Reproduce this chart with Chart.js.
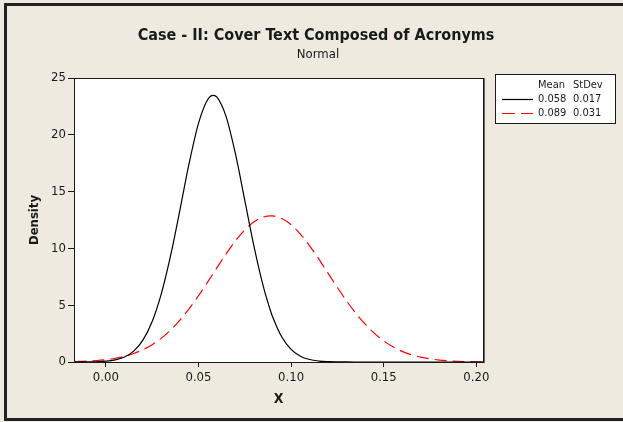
<!DOCTYPE html>
<html>
<head>
<meta charset="utf-8">
<script src="https://cdn.jsdelivr.net/npm/chart.js@4"></script>
<style>
  html, body { margin: 0; padding: 0; background: #EEEAE0; }
  #wrap { width: 623px; height: 422px; }
</style>
</head>
<body>
<div id="wrap"><canvas id="c" width="623" height="422"></canvas></div>
<script>
// ---- data ----
const chartTitle = 'Case - II: Cover Text Composed of Acronyms';
const chartSubtitle = 'Normal';
const xAxisTitle = 'X';
const yAxisTitle = 'Density';
const seriesMeans = ['0.058', '0.089'];
const seriesStDevs = ['0.017', '0.031'];
const xTickValues = [0.00, 0.05, 0.10, 0.15, 0.20];
const xTickLabels = ['0.00', '0.05', '0.10', '0.15', '0.20'];
const yTickValues = [0, 5, 10, 15, 20, 25];

const xValues = [-0.017, -0.015, -0.010, -0.005, 0.000, 0.005, 0.010, 0.015, 0.020, 0.025,
  0.030, 0.035, 0.040, 0.045, 0.050, 0.055, 0.058, 0.060, 0.065, 0.070, 0.075, 0.080, 0.085,
  0.089, 0.090, 0.095, 0.100, 0.105, 0.110, 0.115, 0.120, 0.125, 0.130, 0.135, 0.140, 0.145,
  0.150, 0.155, 0.160, 0.165, 0.170, 0.175, 0.180, 0.185, 0.190, 0.195, 0.200, 0.2036];
const densityA = [0.001, 0.002, 0.008, 0.024, 0.070, 0.182, 0.436, 0.958, 1.929, 3.567,
  6.048, 9.40, 13.40, 17.52, 21.01, 23.11, 23.47, 23.31, 21.56, 18.29, 14.23, 10.16, 6.65,
  4.45, 3.99, 2.196, 1.110, 0.514, 0.218, 0.085, 0.030, 0.010, 0.003, 0.001, 0, 0,
  0, 0, 0, 0, 0, 0, 0, 0, 0, 0, 0, 0];
const densityB = [0.037, 0.046, 0.078, 0.130, 0.209, 0.328, 0.500, 0.745, 1.081, 1.528,
  2.104, 2.824, 3.691, 4.700, 5.832, 7.052, 7.805, 8.308, 9.536, 10.67, 11.62, 12.34, 12.76,
  12.87, 12.86, 12.63, 12.08, 11.26, 10.23, 9.053, 7.805, 6.558, 5.366, 4.279, 3.327, 2.517,
  1.857, 1.335, 0.934, 0.637, 0.424, 0.274, 0.173, 0.106, 0.064, 0.037, 0.021, 0.013];

const FONT = '"DejaVu Sans Condensed", "DejaVu Sans", sans-serif';
const INK = '#1a1a1a';

const toPoints = ys => xValues.map((x, i) => ({ x: x, y: ys[i] }));

const decorPlugin = {
  id: 'decor',
  beforeDraw(chart) {
    const { ctx, chartArea: a } = chart;
    ctx.save();
    ctx.fillStyle = '#EEEAE0';
    ctx.fillRect(0, 0, chart.width, chart.height);
    // outer frame
    ctx.strokeStyle = '#222';
    ctx.lineWidth = 3;
    ctx.strokeRect(5.5, 4.5, chart.width + 10, 415);
    // plot background
    ctx.fillStyle = '#ffffff';
    ctx.fillRect(a.left, a.top, a.right - a.left, a.bottom - a.top);
    ctx.restore();
  },
  afterDraw(chart) {
    const { ctx, chartArea: a } = chart;
    ctx.save();
    // plot frame
    ctx.strokeStyle = INK;
    ctx.lineWidth = 1;
    ctx.strokeRect(Math.round(a.left) + 0.5, Math.round(a.top) + 0.5,
      Math.round(a.right - a.left), Math.round(a.bottom - a.top));
    ctx.strokeStyle = '#666';
    ctx.lineWidth = 1;
    ctx.beginPath();
    ctx.moveTo(Math.round(a.right) + 1.5, a.top);
    ctx.lineTo(Math.round(a.right) + 1.5, a.bottom + 1);
    ctx.stroke();

    // titles
    ctx.fillStyle = INK;
    ctx.textAlign = 'center';
    ctx.textBaseline = 'middle';
    ctx.font = 'bold 16px ' + FONT;
    ctx.fillText(chartTitle, 316, 36);
    ctx.font = '13px ' + FONT;
    ctx.fillText(chartSubtitle, 318, 55);

    // legend box
    const lx = 495, ly = 74, lw = 120, lh = 49;
    ctx.fillStyle = '#ffffff';
    ctx.fillRect(lx, ly, lw, lh);
    ctx.strokeStyle = INK;
    ctx.lineWidth = 1;
    ctx.strokeRect(lx + 0.5, ly + 0.5, lw, lh);
    ctx.font = '11px ' + FONT;
    ctx.fillStyle = INK;
    ctx.textAlign = 'left';
    ctx.textBaseline = 'middle';
    ctx.fillText('Mean', 538, 85);
    ctx.fillText('StDev', 573, 85);
    chart.data.datasets.forEach((ds, i) => {
      const y = 99 + i * 14;
      ctx.save();
      ctx.strokeStyle = ds.borderColor;
      ctx.lineWidth = 1.2;
      ctx.setLineDash(ds.borderDash ? [13, 6] : []);
      ctx.beginPath();
      ctx.moveTo(502, y + 0.5);
      ctx.lineTo(533, y + 0.5);
      ctx.stroke();
      ctx.restore();
      ctx.fillStyle = INK;
      ctx.fillText(seriesMeans[i], 538, y);
      ctx.fillText(seriesStDevs[i], 573, y);
    });
    ctx.restore();
  }
};

new Chart(document.getElementById('c'), {
  type: 'line',
  data: {
    datasets: [
      {
        label: 'Mean ' + seriesMeans[0] + ' StDev ' + seriesStDevs[0],
        data: toPoints(densityA),
        borderColor: '#000000',
        borderWidth: 1.2,
        pointRadius: 0,
        fill: false,
        cubicInterpolationMode: 'monotone'
      },
      {
        label: 'Mean ' + seriesMeans[1] + ' StDev ' + seriesStDevs[1],
        data: toPoints(densityB),
        borderColor: '#ff0000',
        borderWidth: 1.2,
        borderDash: [12, 6],
        pointRadius: 0,
        fill: false,
        cubicInterpolationMode: 'monotone'
      }
    ]
  },
  options: {
    responsive: false,
    animation: false,
    devicePixelRatio: 1,
    layout: { padding: { top: 78, right: 140, left: 0, bottom: 14 } },
    plugins: {
      legend: { display: false },
      title: { display: false },
      tooltip: { enabled: false }
    },
    scales: {
      x: {
        type: 'linear',
        min: -0.0172,
        max: 0.2036,
        afterBuildTicks(scale) { scale.ticks = xTickValues.map(v => ({ value: v })); },
        afterFit(scale) { scale.height = 46; },
        ticks: {
          color: INK,
          font: { family: FONT, size: 13 },
          padding: 3,
          maxRotation: 0,
          callback: (v, i) => xTickLabels[i]
        },
        grid: { display: true, drawOnChartArea: false, drawTicks: true, tickLength: 5, color: INK },
        border: { display: true, color: INK },
        title: {
          display: true, text: xAxisTitle, color: INK,
          font: { family: FONT, size: 14, weight: 'bold' },
          padding: { top: 0, bottom: 0 }
        }
      },
      y: {
        type: 'linear',
        min: 0,
        max: 25,
        afterBuildTicks(scale) { scale.ticks = yTickValues.map(v => ({ value: v })); },
        afterFit(scale) { scale.width = 74; },
        ticks: {
          color: INK,
          font: { family: FONT, size: 13 },
          padding: 2
        },
        grid: { display: true, drawOnChartArea: false, drawTicks: true, tickLength: 6, color: INK },
        border: { display: true, color: INK },
        title: {
          display: true, text: yAxisTitle, color: INK,
          font: { family: FONT, size: 13, weight: 'bold' },
          padding: { top: 27, bottom: 0 }
        }
      }
    }
  },
  plugins: [decorPlugin]
});
</script>
</body>
</html>
